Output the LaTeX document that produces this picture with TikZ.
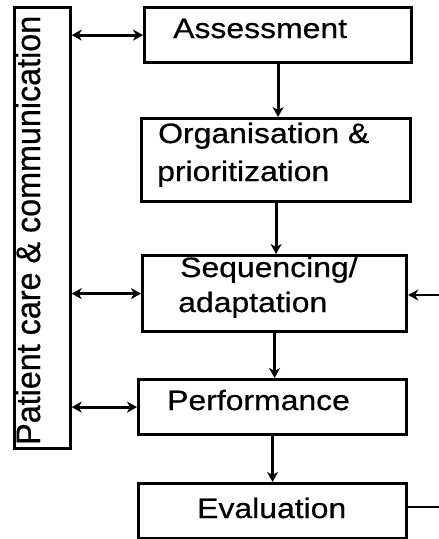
\documentclass[tikz,border=0pt]{standalone}
\usepackage{fontspec}
\setmainfont{Liberation Sans}[FakeStretch=1.14,FakeBold=0.6]
\newfontfamily\sidefont{Liberation Sans}[FakeStretch=0.95,FakeBold=0.6]
\usetikzlibrary{arrows.meta}
\begin{document}
\begin{tikzpicture}[x=1pt,y=-1pt,
  tip/.tip={Stealth[length=10pt,width=11pt,inset=3pt]},
  stepbox/.style={draw=black,line width=3.2pt,inner sep=0pt,anchor=north west},
  label/.style={inner sep=0pt,anchor=base west,font=\fontsize{28}{32}\selectfont},
  link/.style={line width=2.8pt,-tip},
  duo/.style={line width=2.8pt,tip-tip}]
\useasboundingbox (0,0) rectangle (439,539);
\fill[white] (0,0) rectangle (439,539);

% side panel
\node[stepbox,minimum width=56pt,minimum height=441pt] (side) at (12.5,6) {};
\node[inner sep=0pt,anchor=base west,rotate=90,font=\sidefont\fontsize{34}{38}\selectfont] (sidetxt) at (40,445) {Patient care \& communication};

% process steps
\node[stepbox,minimum width=267pt,minimum height=55pt] (assess) at (143,6) {};
\node[stepbox,minimum width=269pt,minimum height=83pt] (org) at (140,117) {};
\node[stepbox,minimum width=264pt,minimum height=76pt] (seq) at (141,254) {};
\node[stepbox,minimum width=268pt,minimum height=55pt] (perf) at (137,378) {};
\node[stepbox,minimum width=268pt,minimum height=55pt] (eval) at (137,482) {};

\node[label] (assesstxt) at (173,38) {Assessment};
\node[label] (orgtxtA) at (158,143) {Organisation \&};
\node[label] (orgtxtB) at (157,181) {prioritization};
\node[label] (seqtxtA) at (180,277) {Sequencing/};
\node[label] (seqtxtB) at (178,312) {adaptation};
\node[label] (perftxt) at (167,410) {Performance};
\node[label] (evaltxt) at (197,518) {Evaluation};

% feedback ends leaving the frame on the right
\coordinate (fbin) at (439,295);
\coordinate (fbout) at (439,507);

% main flow
\draw[link] (assess.south) -- (assess.south |- org.north);
\draw[link] (org.south) -- (org.south |- seq.north);
\draw[link] (seq.south) -- (seq.south |- perf.north);
\draw[link] (perf.south) -- (perf.south |- eval.north);

% links with the side panel
\draw[duo] (assess.west -| side.east) -- (assess.west);
\draw[duo] (seq.west -| side.east) -- (seq.west);
\draw[duo] (perf.west -| side.east) -- (perf.west);

% feedback
\draw[link] (fbin) -- (fbin -| seq.east);
\draw[line width=2.8pt] (fbout -| eval.east) -- (fbout);
\end{tikzpicture}
\end{document}
